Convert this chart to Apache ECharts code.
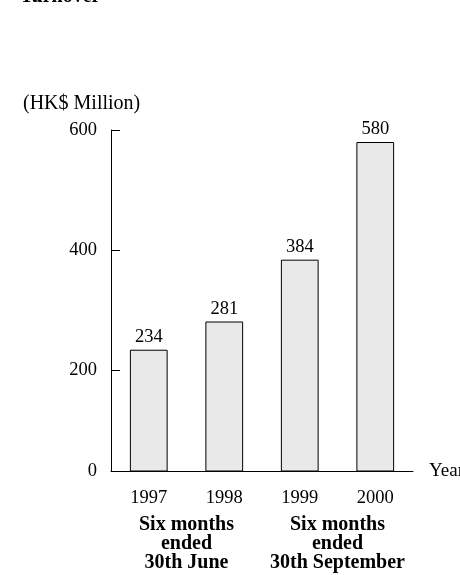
<!DOCTYPE html>
<html>
<head>
<meta charset="utf-8">
<script src="https://cdn.jsdelivr.net/npm/echarts@6/dist/echarts.min.js"></script>
<style>html,body{margin:0;padding:0;background:#fff;}#c{width:460px;height:575px;}</style>
</head>
<body>
<div id="c"></div>
<script>
const categories = ['1997', '1998', '1999', '2000'];
const turnover = [234, 281, 384, 580];
const periodLabels = ['Six months\nended\n30th June', 'Six months\nended\n30th September'];
// axis as drawn in the picture: baseline marked "0", then 200, 400, 600
const yTickValues = [32, 200, 400, 600];
const yTickLabels = ['0', '200', '400', '600'];

const FONT = '"Liberation Serif", "Times New Roman", serif';
const chart = echarts.init(document.getElementById('c'));
chart.setOption({
  backgroundColor: '#fff',
  animation: false,
  textStyle: { fontFamily: FONT, color: '#000' },
  title: [
    { text: 'Turnover', left: 15, top: -18, textStyle: { fontFamily: FONT, fontSize: 20, fontWeight: 'bold', color: '#000' } },
    { text: '(HK$ Million)', left: 18, top: 89, textStyle: { fontFamily: FONT, fontSize: 20, fontWeight: 'normal', color: '#000' } }
  ],
  grid: { left: 111, right: 47, top: 130, bottom: 104, containLabel: false, outerBoundsMode: 'none' },
  xAxis: [
    {
      type: 'category', data: categories, position: 'bottom',
      name: 'Year', nameLocation: 'end', nameGap: 16,
      nameTextStyle: { fontFamily: FONT, fontSize: 19, color: '#000', verticalAlign: 'middle', padding: [0, 0, 10, 0] },
      axisLine: { lineStyle: { color: '#000', width: 1 } },
      axisTick: { inside: true, length: 9, lineStyle: { color: '#000' } },
      axisLabel: { fontFamily: FONT, fontSize: 18.5, color: '#000', margin: 18 }
    },
    {
      type: 'category', data: periodLabels, position: 'bottom', offset: 44,
      axisLine: { show: false }, axisTick: { show: false },
      axisLabel: { interval: 0, fontFamily: FONT, fontSize: 20, fontWeight: 'bold', color: '#000', lineHeight: 19, margin: 0 }
    }
  ],
  yAxis: {
    type: 'value', min: 32, max: 600,
    splitLine: { show: false },
    axisLine: { show: true, lineStyle: { color: '#000', width: 1 } },
    axisTick: { show: true, inside: true, length: 9, lineStyle: { color: '#000' }, customValues: yTickValues.slice(1) },
    axisLabel: {
      fontFamily: FONT, fontSize: 18.5, color: '#000', margin: 14,
      customValues: yTickValues,
      formatter: v => yTickLabels[yTickValues.indexOf(v)]
    }
  },
  series: [{
    type: 'bar', data: turnover, barWidth: '50%', xAxisIndex: 0,
    itemStyle: { color: '#e9e9e9', borderColor: '#000', borderWidth: 1 },
    label: { show: true, position: 'top', distance: 3, fontFamily: FONT, fontSize: 18.5, color: '#000' }
  }]
});
</script>
</body>
</html>
